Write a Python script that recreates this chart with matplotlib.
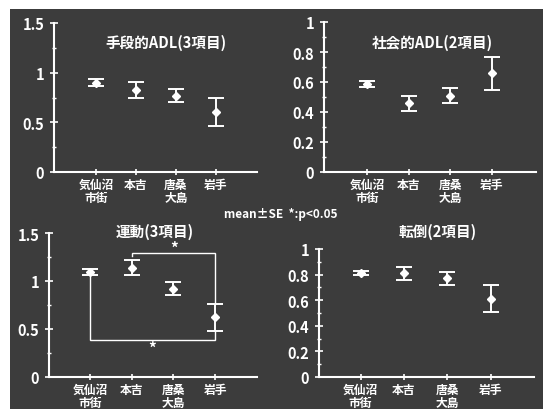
import matplotlib
matplotlib.use("Agg")
import matplotlib.pyplot as plt
from matplotlib.ticker import MultipleLocator
from matplotlib.patches import Rectangle

plt.rcParams['font.family'] = ['Noto Sans CJK JP', 'DejaVu Sans']
plt.rcParams['font.weight'] = 'bold'

# areas and scores (mean ± SE)
areas = ["気仙沼\n市街", "本吉", "唐桑\n大島", "岩手"]

iadl_mean = [0.90, 0.83, 0.77, 0.60]
iadl_se = [0.035, 0.08, 0.07, 0.14]

social_mean = [0.59, 0.46, 0.51, 0.66]
social_se = [0.02, 0.05, 0.05, 0.11]

motor_mean = [1.09, 1.14, 0.92, 0.62]
motor_se = [0.03, 0.08, 0.065, 0.14]

fall_mean = [0.81, 0.81, 0.77, 0.61]
fall_se = [0.015, 0.05, 0.05, 0.105]

titles = ["手段的ADL(3項目)", "社会的ADL(2項目)", "運動(3項目)", "転倒(2項目)"]

W, H = 543, 410
BG = "#3c3c3c"
FG = "white"

fig = plt.figure(figsize=(W / 100, H / 100), dpi=100, facecolor="white")
fig.add_artist(Rectangle((10 / W, 0), 1 - 10 / W, 1 - 10 / H,
                         transform=fig.transFigure, facecolor=BG,
                         edgecolor="none", zorder=-10))


def px_axes(left, right, top, bottom):
    return fig.add_axes([left / W, 1 - bottom / H, (right - left) / W,
                         (bottom - top) / H])


# pixel boxes: left, right, top, bottom ; x-limits ; y-limit/major step
panels = [
    dict(box=(54, 257, 24, 173), xlim=(-1.05, 4.03), ymax=1.5, step=0.5,
         mean=iadl_mean, se=iadl_se, title_xy=(166, 43)),
    dict(box=(324, 536, 23, 173), xlim=(-1.03, 4.06), ymax=1.0, step=0.2,
         mean=social_mean, se=social_se, title_xy=(432, 43)),
    dict(box=(49, 257, 234, 378), xlim=(-0.98, 4.0), ymax=1.5, step=0.5,
         mean=motor_mean, se=motor_se, title_xy=(155, 232)),
    dict(box=(319, 534, 250, 378), xlim=(-0.96, 4.0), ymax=1.0, step=0.2,
         mean=fall_mean, se=fall_se, title_xy=(438, 232)),
]

axes = []
for p, title in zip(panels, titles):
    ax = px_axes(*p["box"])
    ax.set_facecolor("none")
    x = list(range(len(areas)))
    ax.errorbar(x, p["mean"], yerr=p["se"], fmt="D", color=FG, ms=4.5,
                elinewidth=1.4, capsize=5.5, capthick=1.4)
    ax.set_xlim(*p["xlim"])
    ax.set_ylim(0, p["ymax"])
    ax.yaxis.set_major_locator(MultipleLocator(p["step"]))
    ax.yaxis.set_minor_locator(MultipleLocator(p["step"] / 2))
    ax.set_yticklabels([f"{v:g}" for v in ax.get_yticks()])
    ax.set_xticks(x)
    ax.set_xticklabels(areas, linespacing=0.95)
    for s in ("top", "right"):
        ax.spines[s].set_visible(False)
    for s in ("left", "bottom"):
        ax.spines[s].set_color(FG)
        ax.spines[s].set_linewidth(1.5)
    ax.tick_params(axis="y", colors=FG, labelsize=10.5, direction="inout",
                   length=6, width=1.2, pad=4)
    ax.tick_params(axis="y", which="minor", colors=FG, direction="inout",
                   length=3, width=1)
    ax.tick_params(axis="x", colors=FG, labelsize=8.5, direction="inout",
                   length=5, width=1.2, pad=2)
    for lab in ax.get_xticklabels() + ax.get_yticklabels():
        lab.set_fontweight("bold")
    fig.text(p["title_xy"][0] / W, 1 - p["title_xy"][1] / H, title,
             color=FG, fontsize=10.5, fontweight="bold",
             ha="center", va="center")
    axes.append(ax)

# significance brackets on the motor panel
ax = axes[2]
lw = 1.0
top_y = 1.295
ax.plot([1, 1, 3, 3],
        [motor_mean[1] + motor_se[1] + 0.04, top_y, top_y,
         motor_mean[3] + motor_se[3]],
        color=FG, lw=lw, solid_joinstyle="miter")
ax.text(2.02, 1.345, "*", color=FG, fontsize=11, ha="center", va="center")
low_y = 0.39
ax.plot([0, 0, 3, 3],
        [motor_mean[0] - motor_se[0], low_y, low_y,
         motor_mean[3] - motor_se[3]],
        color=FG, lw=lw, solid_joinstyle="miter")
ax.text(1.48, 0.30, "*", color=FG, fontsize=11, ha="center", va="center")

fig.text(281 / W, 1 - 215 / H, "mean±SE  *:p<0.05", color=FG,
         fontsize=8.5, ha="center", va="center")

fig.savefig("out.png", dpi=100, facecolor=fig.get_facecolor())
